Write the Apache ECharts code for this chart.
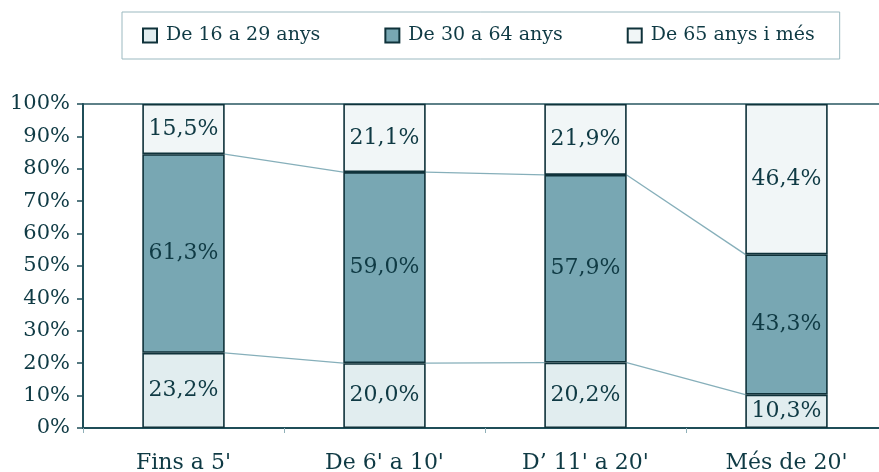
<!DOCTYPE html>
<html>
<head>
<meta charset="utf-8">
<style>
  html, body { margin: 0; padding: 0; background: #ffffff; }
  #chart { width: 879px; height: 472px; }
</style>
<script src="https://cdn.jsdelivr.net/npm/echarts@6/dist/echarts.min.js"></script>
</head>
<body>
<div id="chart"></div>
<script>
// Categories: travel time bands
const categories = ["Fins a 5'", "De 6' a 10'", "D\u2019 11' a 20'", "Més de 20'"];
// Series names (age groups)
const seriesNames = ['De 16 a 29 anys', 'De 30 a 64 anys', 'De 65 anys i més'];
// Shares per age group, in percent
const young = [23.2, 20.0, 20.2, 10.3];
const adult = [61.3, 59.0, 57.9, 43.3];
const senior = [15.5, 21.1, 21.9, 46.4];
// Y axis tick values
const yTicks = [0, 10, 20, 30, 40, 50, 60, 70, 80, 90, 100];

const FONT = 'DejaVu Serif';
const TEXT = '#0f3a44';
const EDGE = '#0f323a';
const BAR_W = 0.41;

const fmt = v => v.toFixed(1).replace('.', ',') + '%';

// Connector segments between neighbouring bars: [i, b_i, c_i, b_i+1, c_i+1]
const links = [];
for (let i = 0; i < categories.length - 1; i++) {
  links.push([i, young[i], young[i] + adult[i], young[i + 1], young[i + 1] + adult[i + 1]]);
}

function barSeries(name, data, color) {
  return {
    name: name,
    type: 'bar',
    stack: 'total',
    barWidth: (BAR_W * 100) + '%',
    data: data,
    z: 3,
    itemStyle: { color: color, borderColor: EDGE, borderWidth: 1.6 },
    label: {
      show: true,
      position: 'inside',
      formatter: p => fmt(p.value),
      fontFamily: FONT,
      fontSize: 22,
      color: TEXT
    },
    emphasis: { disabled: true }
  };
}

const chart = echarts.init(document.getElementById('chart'), null, { renderer: 'canvas' });
chart.setOption({
  backgroundColor: '#ffffff',
  animation: false,
  legend: {
    left: 122,
    top: 12,
    orient: 'horizontal',
    padding: [14, 25, 14, 20],
    itemGap: 64,
    itemWidth: 14,
    itemHeight: 14,
    borderColor: '#9bb9c0',
    borderWidth: 1,
    textStyle: { fontFamily: FONT, fontSize: 19, color: TEXT, padding: [0, 0, 0, 4] },
    data: seriesNames.map(n => ({ name: n, icon: 'rect' }))
  },
  grid: {
    left: 83,
    top: 104,
    width: 804,
    bottom: 44,
    containLabel: false,
    outerBoundsMode: 'none',
    show: true,
    borderColor: '#2a5862',
    borderWidth: 1.5,
    backgroundColor: 'transparent'
  },
  xAxis: {
    type: 'category',
    data: categories,
    axisLine: { lineStyle: { color: '#1f4e58', width: 2 } },
    axisTick: { show: true, inside: false, length: 5, lineStyle: { color: '#8fb0b8', width: 1 } },
    axisLabel: { fontFamily: FONT, fontSize: 22, color: TEXT, margin: 24, interval: 0 }
  },
  yAxis: {
    type: 'value',
    min: yTicks[0],
    max: yTicks[yTicks.length - 1],
    interval: yTicks[1] - yTicks[0],
    axisLine: { show: true, lineStyle: { color: '#1f4e58', width: 2 } },
    axisTick: { show: true, length: 6, lineStyle: { color: '#1f4e58', width: 1.5 } },
    splitLine: { show: false },
    axisLabel: { fontFamily: FONT, fontSize: 21, color: TEXT, margin: 13, formatter: v => v + '%' }
  },
  series: [
    barSeries(seriesNames[0], young, '#e1edef'),
    barSeries(seriesNames[1], adult, '#78a7b3'),
    barSeries(seriesNames[2], senior, '#f1f6f7'),
    {
      type: 'custom',
      z: 2,
      silent: true,
      data: links,
      renderItem: function (params, api) {
        const i = api.value(0);
        const half = api.size([1, 0])[0] * BAR_W / 2;
        const children = [];
        [[1, 3], [2, 4]].forEach(([a, b]) => {
          const p1 = api.coord([i, api.value(a)]);
          const p2 = api.coord([i + 1, api.value(b)]);
          children.push({
            type: 'line',
            shape: { x1: p1[0] + half, y1: p1[1], x2: p2[0] - half, y2: p2[1] },
            style: { stroke: '#86afba', lineWidth: 1.3 }
          });
        });
        return { type: 'group', children: children };
      }
    }
  ]
});
</script>
</body>
</html>
